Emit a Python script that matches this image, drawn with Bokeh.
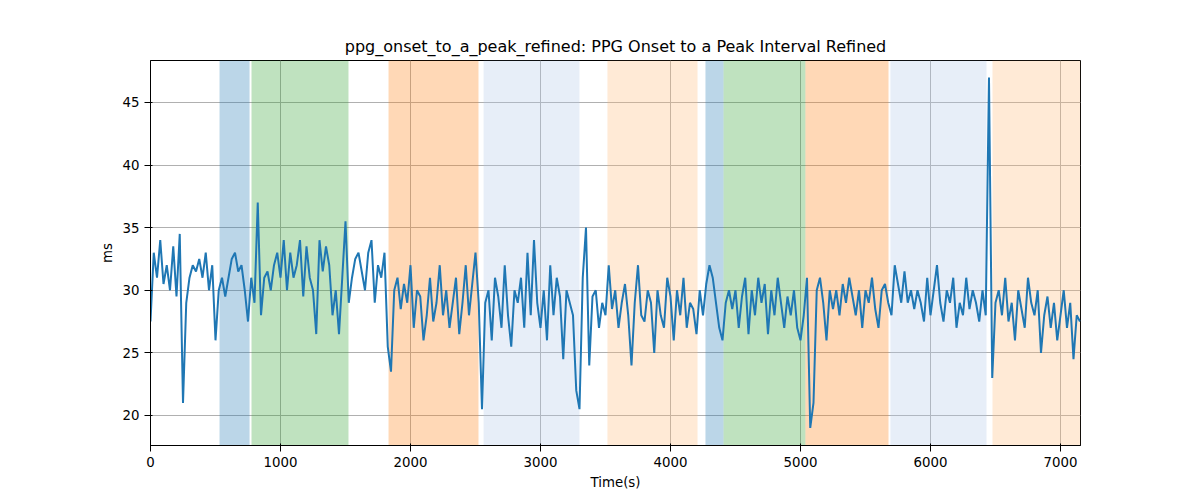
import numpy as np
from bokeh.plotting import figure
from bokeh.models import BoxAnnotation, FixedTicker
from bokeh.embed import file_html
from bokeh.resources import INLINE

values = [
27.5,33,31,34,30.5,32,30,33.5,29.5,34.5,21,29,31,32,31.5,32.5,31,33,30,32,
26,30,31,29.5,31,32.5,33,31.5,32,30,27.5,31,29,37,28,31,31.5,30,32,33,
31,34,30,33,31,32,34,29.5,33.5,31,30,26.5,34,31.5,33.5,32,28,30,26.5,31,
35.5,29,31,32.5,33,31.5,30,33,34,29,32,31,33,25.5,23.5,30,31,28.5,30.5,29,
32,27,30,29.5,26,28,31,27.5,29,32,28,30,27,29,31,26.5,29,32,28,30.5,
33,29,20.5,29,30,26,31,29.5,27,32,28,25.5,30,29,31,27,33,28,34,29,
27,30,26,32,28,31,29.5,24.5,30,29,28,22,20.5,31,35,24,29.5,30,27,29,
28,32,28.5,30,27,29,30.5,28,24,29,32,28,27.5,30,29,25,30,28,27,31,
29.5,26,30,28,31,27,29,28.5,26.5,30,28,30.5,32,31,29,27,26,29,30,28.5,
30,27,29.5,31,26.5,30,28,31,29,30.5,26.5,30,28,31,29,27,29.5,28,30,27,
26,28,31,19,21,30,31,29,26,30,28.5,30,28,30.5,29,31,29.5,28,30,27,
30,29,31,28.5,27,30,30.5,29,28,32,30.5,29,31.5,29,30,28.5,30,29,27.5,31,
28,30,32,29,27.5,30,29,31,27,29,28,31,28.5,30,29,27.5,30,28,47,23,
29,30,28,31,27.5,29,26,30,28.5,27,31,29,28,30,25,28,29.5,27,29,26,
28,30,27,29,24.5,28,27.5]
times = [i * 25 for i in range(len(values))]

span_starts = [531, 777, 1831, 2562, 3515, 4269, 4408, 5038, 5692, 6477]
span_ends = [762, 1523, 2523, 3300, 4208, 4408, 5038, 5677, 6431, 7154]
span_colors = ["#1f77b4", "#2ca02c", "#ff7f0e", "#aec7e8", "#ffbb78",
               "#1f77b4", "#2ca02c", "#ff7f0e", "#aec7e8", "#ffbb78"]

p = figure(width=1200, height=500, output_backend="svg", toolbar_location=None,
           x_range=(0, 7154), y_range=(17.6, 48.35),
           title="ppg_onset_to_a_peak_refined: PPG Onset to a Peak Interval Refined",
           min_border_left=150, min_border_right=120, min_border_top=60, min_border_bottom=55)
p.title.align = "center"
p.title.text_font = "DejaVu Sans"
p.title.text_font_size = "12pt"
p.title.text_font_style = "normal"
p.title.text_color = "black"

for s, e, c in zip(span_starts, span_ends, span_colors):
    p.add_layout(BoxAnnotation(left=s, right=e, fill_color=c, fill_alpha=0.3, line_alpha=0, level="underlay"))

p.line(times, values, line_color="#1f77b4", line_width=2)

p.xaxis.ticker = FixedTicker(ticks=list(range(0, 8000, 1000)))
p.yaxis.ticker = FixedTicker(ticks=[20, 25, 30, 35, 40, 45])
p.xaxis.axis_label = "Time(s)"
p.yaxis.axis_label = "ms"
for ax in (p.xaxis, p.yaxis):
    ax.axis_label_text_font = "DejaVu Sans"
    ax.axis_label_text_font_style = "normal"
    ax.axis_label_text_font_size = "10pt"
    ax.axis_label_text_color = "black"
    ax.major_label_text_font = "DejaVu Sans"
    ax.major_label_text_font_size = "10pt"
    ax.major_label_text_color = "black"
    ax.minor_tick_line_color = None
    ax.axis_line_color = "black"
    ax.major_tick_line_color = "black"
p.grid.grid_line_color = "#b0b0b0"
p.grid.grid_line_width = 1
p.grid.level = "underlay"
p.outline_line_color = "black"

open("out.html", "w").write(file_html(p, INLINE))
